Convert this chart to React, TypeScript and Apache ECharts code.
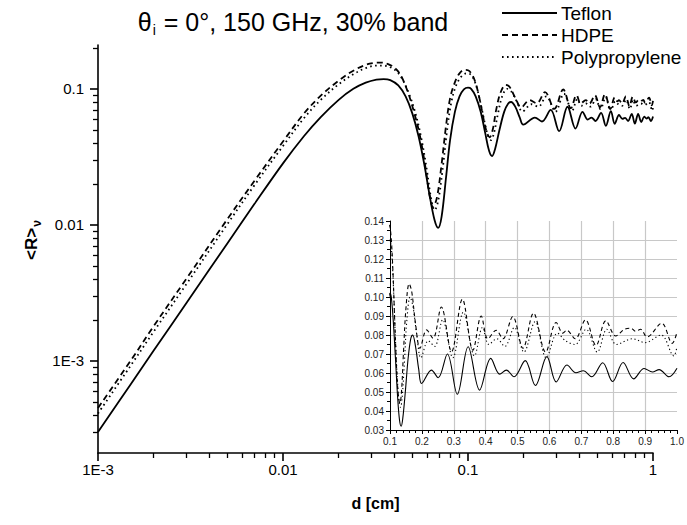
import React, { useEffect, useRef } from 'react';
import * as echarts from 'echarts';

const FONT = '"Liberation Sans", Arial, Helvetica, sans-serif';

const seriesNames = ['Teflon', 'HDPE', 'Polypropylene'];

// Teflon (solid)
const teflonD = [0.001, 0.0015, 0.002, 0.003, 0.005, 0.007, 0.01, 0.013, 0.016, 0.02, 0.024, 0.028, 0.032, 0.035, 0.038, 0.042, 0.046, 0.05, 0.054, 0.058, 0.062, 0.066, 0.069, 0.072, 0.076, 0.08, 0.085, 0.09, 0.095, 0.1, 0.104, 0.11, 0.117, 0.124, 0.13, 0.135, 0.14, 0.148, 0.157, 0.165, 0.171, 0.18, 0.19, 0.199, 0.23, 0.251, 0.28, 0.311, 0.345, 0.381, 0.416, 0.444, 0.465, 0.489, 0.524, 0.556, 0.592, 0.621, 0.655, 0.683, 0.706, 0.733, 0.767, 0.798, 0.831, 0.864, 0.897, 0.923, 0.944, 0.975, 1.0];
const teflonR = [3.0e-4, 6.7e-4, 1.19e-3, 2.65e-3, 7.3e-3, 0.0142, 0.0283, 0.045, 0.062, 0.083, 0.1, 0.111, 0.117, 0.118, 0.116, 0.106, 0.088, 0.066, 0.045, 0.028, 0.0165, 0.0108, 0.0095, 0.0115, 0.022, 0.042, 0.068, 0.088, 0.099, 0.102, 0.1, 0.088, 0.068, 0.047, 0.035, 0.032, 0.036, 0.05, 0.068, 0.078, 0.08, 0.074, 0.062, 0.0545, 0.0615, 0.0575, 0.07, 0.0488, 0.0738, 0.051, 0.0677, 0.0594, 0.0615, 0.058, 0.0665, 0.0534, 0.0686, 0.0553, 0.0642, 0.0601, 0.0612, 0.058, 0.0654, 0.0555, 0.0655, 0.0569, 0.0624, 0.0605, 0.0618, 0.058, 0.0625];

// HDPE (dashed)
const hdpeD = [0.001, 0.0015, 0.002, 0.003, 0.005, 0.007, 0.01, 0.013, 0.016, 0.02, 0.024, 0.028, 0.031, 0.034, 0.037, 0.04, 0.043, 0.047, 0.051, 0.055, 0.059, 0.062, 0.0647, 0.068, 0.072, 0.076, 0.08, 0.085, 0.09, 0.096, 0.1, 0.105, 0.11, 0.116, 0.122, 0.127, 0.131, 0.136, 0.142, 0.15, 0.16, 0.168, 0.18, 0.194, 0.215, 0.235, 0.261, 0.293, 0.327, 0.36, 0.386, 0.407, 0.433, 0.454, 0.485, 0.517, 0.55, 0.588, 0.621, 0.642, 0.654, 0.681, 0.713, 0.746, 0.777, 0.808, 0.835, 0.855, 0.87, 0.886, 0.906, 0.952, 0.985, 1.0];
const hdpeR = [4.5e-4, 1.0e-3, 1.8e-3, 4.0e-3, 0.011, 0.021, 0.041, 0.066, 0.089, 0.115, 0.136, 0.15, 0.155, 0.156, 0.152, 0.143, 0.128, 0.097, 0.068, 0.045, 0.026, 0.0165, 0.0135, 0.016, 0.028, 0.053, 0.085, 0.112, 0.13, 0.138, 0.137, 0.128, 0.11, 0.082, 0.058, 0.047, 0.044, 0.05, 0.07, 0.094, 0.107, 0.103, 0.086, 0.073, 0.0827, 0.0783, 0.0947, 0.0712, 0.0989, 0.072, 0.09, 0.078, 0.0825, 0.078, 0.0897, 0.073, 0.0915, 0.071, 0.0866, 0.081, 0.0825, 0.078, 0.088, 0.0745, 0.0875, 0.0795, 0.083, 0.0836, 0.082, 0.083, 0.079, 0.0862, 0.0756, 0.0815];

// Polypropylene (dotted)
const ppD = [0.001, 0.0015, 0.002, 0.003, 0.005, 0.007, 0.01, 0.013, 0.016, 0.02, 0.024, 0.028, 0.032, 0.035, 0.038, 0.041, 0.044, 0.048, 0.052, 0.056, 0.06, 0.063, 0.066, 0.069, 0.073, 0.077, 0.081, 0.086, 0.092, 0.098, 0.102, 0.107, 0.112, 0.118, 0.124, 0.129, 0.133, 0.138, 0.145, 0.153, 0.163, 0.172, 0.184, 0.197, 0.22, 0.24, 0.265, 0.297, 0.33, 0.365, 0.39, 0.41, 0.435, 0.46, 0.49, 0.52, 0.555, 0.59, 0.625, 0.65, 0.68, 0.715, 0.75, 0.78, 0.81, 0.86, 0.9, 0.95, 0.99, 1.0];
const ppR = [4.1e-4, 9.2e-4, 1.64e-3, 3.65e-3, 0.0101, 0.0195, 0.038, 0.061, 0.083, 0.108, 0.128, 0.142, 0.148, 0.148, 0.144, 0.135, 0.119, 0.092, 0.066, 0.043, 0.025, 0.016, 0.0128, 0.015, 0.026, 0.049, 0.078, 0.105, 0.123, 0.13, 0.129, 0.119, 0.1, 0.074, 0.054, 0.044, 0.042, 0.047, 0.065, 0.088, 0.1, 0.095, 0.08, 0.068, 0.077, 0.074, 0.088, 0.068, 0.092, 0.069, 0.084, 0.075, 0.078, 0.074, 0.084, 0.071, 0.087, 0.068, 0.081, 0.077, 0.075, 0.083, 0.071, 0.083, 0.075, 0.078, 0.076, 0.08, 0.069, 0.074];

const mainXTicks = [0.001, 0.01, 0.1, 1];
const mainXTickLabels = ['1E-3', '0.01', '0.1', '1'];
const mainYTicks = [0.001, 0.01, 0.1];
const mainYTickLabels = ['1E-3', '0.01', '0.1'];

const pair = (d: number[], r: number[]) => d.map((v, i) => [v, r[i]]);
const insetPart = (d: number[], r: number[]) => pair(d, r).filter((p) => p[0] >= 0.095);

const mainDash: any[] = ['solid', [6, 4], [1.6, 3.4]];
const insetDash: any[] = ['solid', [4, 3], [1.2, 2.6]];
const allD = [teflonD, hdpeD, ppD];
const allR = [teflonR, hdpeR, ppR];

export default function App() {
  const ref = useRef<HTMLDivElement>(null);
  useEffect(() => {
    if (!ref.current) return;
    const chart = echarts.init(ref.current, undefined, { renderer: 'svg' });
    const labelOf = (vals: number[], texts: string[]) => (v: number) => {
      for (let i = 0; i < vals.length; i++) if (Math.abs(v / vals[i] - 1) < 1e-6) return texts[i];
      return '';
    };
    const series: any[] = [];
    seriesNames.forEach((name, i) => {
      series.push({
        name, type: 'line', xAxisIndex: 0, yAxisIndex: 0, symbol: 'none', smooth: 0.35,
        data: pair(allD[i], allR[i]),
        lineStyle: { color: '#000', width: 1.8, type: mainDash[i], cap: 'butt' },
        z: 3,
      });
    });
    seriesNames.forEach((name, i) => {
      series.push({
        name, type: 'line', xAxisIndex: 1, yAxisIndex: 1, symbol: 'none', smooth: 0.35,
        data: insetPart(allD[i], allR[i]), clip: true,
        lineStyle: { color: '#000', width: 1.1, type: insetDash[i], cap: 'butt' },
        z: 4,
      });
    });

    // manual legend
    const legendTop = 13;
    const legendStep = 22;
    const legendGraphics: any[] = [];
    seriesNames.forEach((name, i) => {
      const y = legendTop + i * legendStep;
      legendGraphics.push({
        type: 'line', z: 10,
        shape: { x1: 502, y1: y, x2: 557, y2: y },
        style: { stroke: '#000', lineWidth: 1.8, lineDash: mainDash[i] === 'solid' ? null : mainDash[i] },
      });
      legendGraphics.push({
        type: 'text', z: 10, x: 561, y,
        style: { text: name, fontSize: 19, fontFamily: FONT, fill: '#000', align: 'left', verticalAlign: 'middle' },
      });
    });

    const option: any = {
      animation: false,
      backgroundColor: '#fff',
      textStyle: { fontFamily: FONT },
      grid: [
        { left: 98, top: 45, width: 555, height: 408 },
        { left: 390, top: 221, width: 287, height: 209 },
      ],
      xAxis: [
        {
          type: 'log', gridIndex: 0, min: 0.001, max: 1, logBase: 10,
          name: 'd [cm]', nameLocation: 'middle', nameGap: 42,
          nameTextStyle: { fontSize: 16, fontWeight: 'bold', color: '#000', fontFamily: FONT },
          axisLine: { onZero: false, lineStyle: { color: '#000', width: 1.6 } },
          axisTick: { customValues: mainXTicks, length: 8, lineStyle: { color: '#000', width: 1.6 } },
          minorTick: { show: true, splitNumber: 9, length: 5, lineStyle: { color: '#000', width: 1.3 } },
          axisLabel: { customValues: mainXTicks, formatter: labelOf(mainXTicks, mainXTickLabels), fontSize: 15, color: '#000', margin: 9, fontFamily: FONT },
          splitLine: { show: false },
        },
        {
          type: 'value', gridIndex: 1, min: 0.1, max: 1.0, interval: 0.1,
          axisLine: { onZero: false, lineStyle: { color: '#000', width: 1 } },
          axisTick: { length: 4, lineStyle: { color: '#000', width: 1 } },
          minorTick: { show: true, splitNumber: 5, length: 3, lineStyle: { color: '#000', width: 1 } },
          axisLabel: { formatter: (v: number) => v.toFixed(1), fontSize: 10, color: '#222', margin: 6, fontFamily: FONT },
          splitLine: { show: true, showMinLine: false, showMaxLine: false, lineStyle: { color: '#c8c8c8', width: 1.2 } },
        },
      ],
      yAxis: [
        {
          type: 'log', gridIndex: 0, min: 2.1e-4, max: 0.21, logBase: 10,
          axisLine: { onZero: false, lineStyle: { color: '#000', width: 1.6 } },
          axisTick: { customValues: mainYTicks, length: 8, lineStyle: { color: '#000', width: 1.6 } },
          minorTick: { show: true, splitNumber: 9, length: 5, lineStyle: { color: '#000', width: 1.3 } },
          axisLabel: { customValues: mainYTicks, formatter: labelOf(mainYTicks, mainYTickLabels), fontSize: 15, color: '#000', margin: 14, fontFamily: FONT },
          splitLine: { show: false },
        },
        {
          type: 'value', gridIndex: 1, min: 0.03, max: 0.14, interval: 0.01,
          axisLine: { onZero: false, lineStyle: { color: '#000', width: 1 } },
          axisTick: { length: 4, lineStyle: { color: '#000', width: 1 } },
          minorTick: { show: true, splitNumber: 2, length: 3, lineStyle: { color: '#000', width: 1 } },
          axisLabel: { formatter: (v: number) => v.toFixed(2), fontSize: 10, color: '#222', margin: 6, fontFamily: FONT },
          splitLine: { show: true, showMinLine: false, showMaxLine: false, lineStyle: { color: '#c8c8c8', width: 1.2 } },
        },
      ],
      graphic: [
        {
          type: 'text', z: 10, x: 293, y: 22,
          style: {
            text: '{m|θ}{s|i}{m| = 0°, 150 GHz, 30% band}',
            align: 'center', verticalAlign: 'middle',
            rich: {
              m: { fontSize: 25, fill: '#000', fontFamily: FONT },
              s: { fontSize: 14, fill: '#000', fontFamily: FONT, padding: [15, 1, 0, 1] },
            },
          },
        },
        {
          type: 'text', z: 10, x: 31, y: 240, rotation: Math.PI / 2,
          style: {
            text: '{m|<R>}{s|ν}',
            align: 'center', verticalAlign: 'middle',
            rich: {
              m: { fontSize: 17, fontWeight: 'bold', fill: '#000', fontFamily: FONT },
              s: { fontSize: 12, fontWeight: 'bold', fill: '#000', fontFamily: FONT, padding: [12, 0, 0, 1] },
            },
          },
        },
        ...legendGraphics,
      ],
      series,
    };
    chart.setOption(option);
    return () => chart.dispose();
  }, []);
  return <div ref={ref} style={{ position: 'absolute', left: 0, top: 0, width: 687, height: 525 }} />;
}
